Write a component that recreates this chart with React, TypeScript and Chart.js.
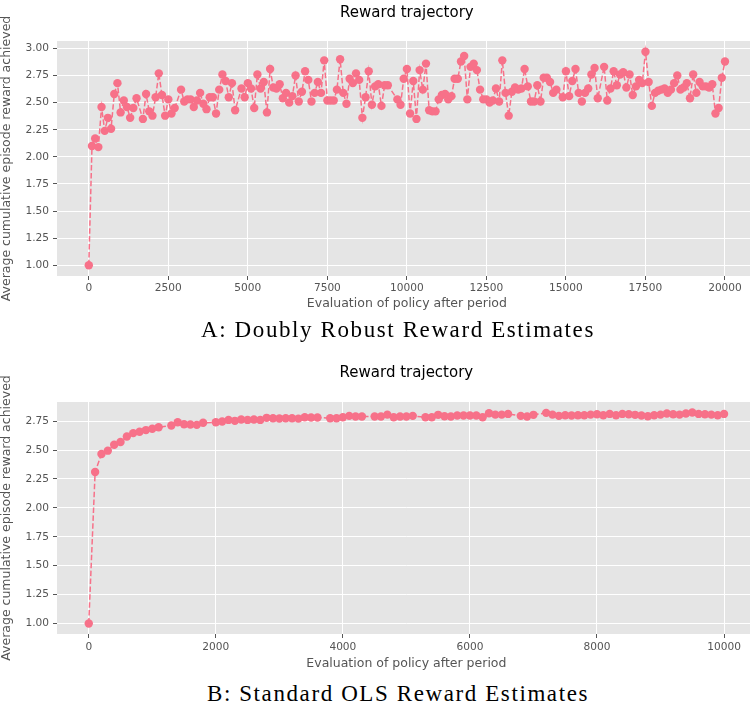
import React, { useEffect, useRef } from "react";
import { Chart, registerables } from "chart.js";

Chart.register(...registerables);

// ---------- Data: A (Doubly Robust) ----------
const DR_PERIODS = [
  0, 100, 200, 300, 400, 500, 600, 700, 800, 900,
  1000, 1100, 1200, 1300, 1400, 1500, 1700, 1800, 1900,
  2000, 2100, 2200, 2300, 2400, 2500, 2600, 2700, 2900,
  3000, 3100, 3200, 3300, 3400, 3500, 3600, 3700, 3800, 3900,
  4000, 4100, 4200, 4300, 4400, 4500, 4600, 4800, 4900,
  5000, 5100, 5200, 5300, 5400, 5500, 5600, 5700, 5800, 5900,
  6000, 6100, 6200, 6300, 6400, 6500, 6600, 6700, 6800, 6900,
  7000, 7100, 7200, 7300, 7400, 7500, 7600, 7700, 7800, 7900,
  8000, 8100, 8200, 8300, 8400, 8500, 8600, 8700, 8800, 8900,
  9000, 9100, 9200, 9300, 9400, 9700, 9800, 9900,
  10000, 10100, 10200, 10300, 10400, 10500, 10600, 10700, 10800, 10900,
  11000, 11100, 11200, 11300, 11400, 11500, 11600, 11700, 11800, 11900,
  12000, 12100, 12200, 12300, 12400, 12500, 12600, 12700, 12800, 12900,
  13000, 13100, 13200, 13300, 13400, 13500, 13600, 13700, 13800, 13900,
  14000, 14100, 14200, 14300, 14400, 14500, 14600, 14700, 14900,
  15000, 15100, 15200, 15300, 15400, 15500, 15600, 15700, 15800, 15900,
  16000, 16200, 16300, 16400, 16500, 16600, 16700, 16800, 16900,
  17000, 17100, 17200, 17300, 17400, 17500, 17600, 17700, 17800, 17900,
  18000, 18100, 18200, 18300, 18400, 18500, 18600, 18700, 18800, 18900,
  19000, 19100, 19200, 19300, 19400, 19500, 19600, 19700, 19800, 19900,
  20000,
];
const DR_REWARDS = [
  1.0, 2.1, 2.17, 2.09, 2.46, 2.24, 2.36, 2.26, 2.58, 2.68,
  2.41, 2.52, 2.46, 2.36, 2.45, 2.54, 2.35, 2.58, 2.42,
  2.38, 2.55, 2.77, 2.57, 2.38, 2.53, 2.4, 2.45, 2.62,
  2.51, 2.53, 2.53, 2.46, 2.52, 2.59, 2.49, 2.44, 2.55, 2.55,
  2.4, 2.62, 2.76, 2.7, 2.55, 2.68, 2.43, 2.63, 2.55,
  2.68, 2.63, 2.45, 2.76, 2.63, 2.69, 2.41, 2.81, 2.64, 2.63,
  2.67, 2.54, 2.59, 2.5, 2.56, 2.75, 2.51, 2.6, 2.79, 2.71,
  2.51, 2.59, 2.69, 2.59, 2.89, 2.52, 2.52, 2.52, 2.62, 2.9,
  2.59, 2.49, 2.72, 2.68, 2.77, 2.71, 2.36, 2.55, 2.79, 2.48,
  2.65, 2.67, 2.47, 2.66, 2.66, 2.53, 2.48, 2.72,
  2.81, 2.4, 2.7, 2.35, 2.8, 2.62, 2.86, 2.43, 2.42, 2.42,
  2.53, 2.57, 2.58, 2.53, 2.56, 2.72, 2.72, 2.88, 2.93, 2.53,
  2.83, 2.86, 2.8, 2.62, 2.53, 2.53, 2.5, 2.52, 2.63, 2.51,
  2.89, 2.59, 2.38, 2.6, 2.64, 2.62, 2.63, 2.81, 2.65, 2.51,
  2.51, 2.66, 2.51, 2.73, 2.73, 2.69, 2.59, 2.62, 2.55,
  2.79, 2.56, 2.7, 2.81, 2.59, 2.51, 2.59, 2.63, 2.76, 2.82,
  2.54, 2.83, 2.52, 2.63, 2.79, 2.66, 2.76, 2.78, 2.64,
  2.76, 2.57, 2.65, 2.71, 2.68, 2.97, 2.69, 2.47, 2.59, 2.61,
  2.62, 2.63, 2.59, 2.62, 2.68, 2.75, 2.62, 2.64, 2.68, 2.54,
  2.76, 2.59, 2.69, 2.65, 2.65, 2.64, 2.67, 2.4, 2.45, 2.73,
  2.88,
];
const DR_X_TICKS = [0, 2500, 5000, 7500, 10000, 12500, 15000, 17500, 20000];
const DR_Y_TICKS = [1.0, 1.25, 1.5, 1.75, 2.0, 2.25, 2.5, 2.75, 3.0];

// ---------- Data: B (Standard OLS) ----------
const OLS_PERIODS = [
  0, 100, 200, 300, 400, 500, 600, 700, 800, 900,
  1000, 1100, 1300, 1400, 1500, 1600, 1700, 1800,
  2000, 2100, 2200, 2300, 2400, 2500, 2600, 2700, 2800, 2900,
  3000, 3100, 3200, 3300, 3400, 3500, 3600, 3800, 3900,
  4000, 4100, 4200, 4300, 4500, 4600, 4700, 4800, 4900,
  5000, 5100, 5300, 5400, 5500, 5600, 5700, 5800, 5900,
  6000, 6100, 6200, 6300, 6400, 6500, 6600, 6800, 6900,
  7000, 7200, 7300, 7400, 7500, 7600, 7700, 7800, 7900,
  8000, 8100, 8200, 8300, 8400, 8500, 8600, 8700, 8800, 8900,
  9000, 9100, 9200, 9300, 9400, 9500, 9600, 9700, 9800, 9900,
  10000,
];
const OLS_REWARDS = [
  1.0, 2.31, 2.466, 2.495, 2.546, 2.57, 2.618, 2.647, 2.658, 2.673,
  2.684, 2.698, 2.713, 2.741, 2.724, 2.721, 2.718, 2.736,
  2.741, 2.747, 2.761, 2.753, 2.764, 2.761, 2.764, 2.761, 2.779, 2.776,
  2.773, 2.776, 2.776, 2.772, 2.784, 2.782, 2.782, 2.776, 2.776,
  2.784, 2.796, 2.79, 2.79, 2.79, 2.79, 2.807, 2.784, 2.79,
  2.79, 2.796, 2.784, 2.784, 2.805, 2.793, 2.79, 2.799, 2.799,
  2.799, 2.799, 2.784, 2.819, 2.807, 2.807, 2.813, 2.796, 2.79,
  2.805, 2.822, 2.807, 2.796, 2.802, 2.799, 2.802, 2.802, 2.807,
  2.81, 2.802, 2.813, 2.802, 2.813, 2.81, 2.805, 2.799, 2.793, 2.802,
  2.807, 2.816, 2.81, 2.807, 2.816, 2.825, 2.813, 2.81, 2.807, 2.802,
  2.813,
];
const OLS_X_TICKS = [0, 2000, 4000, 6000, 8000, 10000];
const OLS_Y_TICKS = [1.0, 1.25, 1.5, 1.75, 2.0, 2.25, 2.5, 2.75];

// ---------- Texts ----------
const CHART_TITLE = "Reward trajectory";
const X_LABEL = "Evaluation of policy after period";
const Y_LABEL = "Average cumulative episode reward achieved";
const CAPTION_A = "A: Doubly Robust Reward Estimates";
const CAPTION_B = "B: Standard OLS Reward Estimates";

const MARK_COLOR = "#f77189";
const SANS = "'DejaVu Sans', sans-serif";

const plotBackground = {
  id: "plotBackground",
  beforeDraw(chart: any) {
    const { ctx, chartArea: a } = chart;
    ctx.save();
    ctx.fillStyle = "#E5E5E5";
    ctx.fillRect(a.left, a.top, a.right - a.left, a.bottom - a.top);
    ctx.restore();
  },
};

type PanelSpec = {
  periods: number[];
  rewards: number[];
  xMin: number;
  xMax: number;
  xTicks: number[];
  yMin: number;
  yMax: number;
  yTicks: number[];
  titlePadTop: number;
  titlePadBottom: number;
  xAxisHeight: number;
  xTickPad: number;
  xTitlePadBottom: number;
};

function buildConfig(p: PanelSpec): any {
  return {
    type: "line",
    data: {
      datasets: [
        {
          data: p.periods.map((x, i) => ({ x, y: p.rewards[i] })),
          borderColor: MARK_COLOR,
          backgroundColor: MARK_COLOR,
          borderWidth: 1.5,
          borderDash: [5.5, 2.4],
          pointRadius: 4.2,
          pointBorderWidth: 0,
          pointBackgroundColor: MARK_COLOR,
          tension: 0,
          fill: false,
        },
      ],
    },
    options: {
      animation: false,
      responsive: false,
      maintainAspectRatio: false,
      devicePixelRatio: 1,
      layout: { padding: 0 },
      events: [],
      plugins: {
        legend: { display: false },
        tooltip: { enabled: false },
        title: {
          display: true,
          text: CHART_TITLE,
          color: "#000000",
          fullSize: false,
          font: { family: SANS, size: 15, weight: "normal", lineHeight: 1.2 },
          padding: { top: p.titlePadTop, bottom: p.titlePadBottom },
        },
      },
      scales: {
        x: {
          type: "linear",
          min: p.xMin,
          max: p.xMax,
          afterBuildTicks: (s: any) => {
            s.ticks = p.xTicks.map((v) => ({ value: v }));
          },
          afterFit: (s: any) => {
            s.height = p.xAxisHeight;
          },
          border: { display: false },
          grid: {
            color: "#FFFFFF",
            lineWidth: 1,
            drawTicks: true,
            tickLength: 4,
            tickColor: "#555555",
            tickWidth: 1,
          },
          ticks: {
            color: "#555555",
            font: { family: SANS, size: 10.6 },
            padding: p.xTickPad,
            maxRotation: 0,
            autoSkip: false,
            callback: (v: any) => String(v),
          },
          title: {
            display: true,
            text: X_LABEL,
            color: "#555555",
            font: { family: SANS, size: 12.5, lineHeight: 1.2 },
            padding: { top: 0, bottom: p.xTitlePadBottom },
          },
        },
        y: {
          type: "linear",
          min: p.yMin,
          max: p.yMax,
          afterBuildTicks: (s: any) => {
            s.ticks = p.yTicks.map((v) => ({ value: v }));
          },
          afterFit: (s: any) => {
            s.width = 57;
          },
          border: { display: false },
          grid: {
            color: "#FFFFFF",
            lineWidth: 1,
            drawTicks: true,
            tickLength: 4,
            tickColor: "#555555",
            tickWidth: 1,
          },
          ticks: {
            color: "#555555",
            font: { family: SANS, size: 10.6 },
            padding: 4,
            autoSkip: false,
            callback: (v: any) => Number(v).toFixed(2),
          },
          title: {
            display: true,
            text: Y_LABEL,
            color: "#555555",
            font: { family: SANS, size: 12.5, lineHeight: 1.0 },
            padding: { top: 0, bottom: 0 },
          },
        },
      },
    },
    plugins: [plotBackground],
  };
}

function Panel(props: { top: number; width: number; height: number; spec: PanelSpec }) {
  const ref = useRef<HTMLCanvasElement>(null);
  useEffect(() => {
    const chart = new Chart(ref.current as HTMLCanvasElement, buildConfig(props.spec));
    return () => chart.destroy();
  }, []);
  return (
    <canvas
      ref={ref}
      width={props.width}
      height={props.height}
      style={{
        position: "absolute",
        left: 0,
        top: props.top,
        width: props.width,
        height: props.height,
      }}
    />
  );
}

const captionStyle = (top: number): React.CSSProperties => ({
  position: "absolute",
  left: 0,
  top,
  width: 796,
  textAlign: "center",
  fontFamily: "'Liberation Serif', serif",
  fontSize: 23,
  lineHeight: "23px",
  letterSpacing: "1.6px",
  color: "#000",
  whiteSpace: "nowrap",
});

export default function App() {
  const specA: PanelSpec = {
    periods: DR_PERIODS,
    rewards: DR_REWARDS,
    xMin: -1000,
    xMax: 21000,
    xTicks: DR_X_TICKS,
    yMin: 0.9015,
    yMax: 3.0685,
    yTicks: DR_Y_TICKS,
    titlePadTop: 4,
    titlePadBottom: 19,
    xAxisHeight: 44,
    xTickPad: 2,
    xTitlePadBottom: 8.5,
  };
  const specB: PanelSpec = {
    periods: OLS_PERIODS,
    rewards: OLS_REWARDS,
    xMin: -500,
    xMax: 10500,
    xTicks: OLS_X_TICKS,
    yMin: 0.909,
    yMax: 2.916,
    yTicks: OLS_Y_TICKS,
    titlePadTop: 3,
    titlePadBottom: 20,
    xAxisHeight: 44,
    xTickPad: 3,
    xTitlePadBottom: 6.5,
  };
  return (
    <div
      style={{
        position: "absolute",
        left: 0,
        top: 0,
        width: 750,
        height: 702,
        overflow: "hidden",
        background: "#ffffff",
      }}
    >
      <Panel top={0} width={761} height={320} spec={specA} />
      <div style={captionStyle(318)}>{CAPTION_A}</div>
      <Panel top={361} width={760} height={317} spec={specB} />
      <div style={captionStyle(682)}>{CAPTION_B}</div>
    </div>
  );
}
